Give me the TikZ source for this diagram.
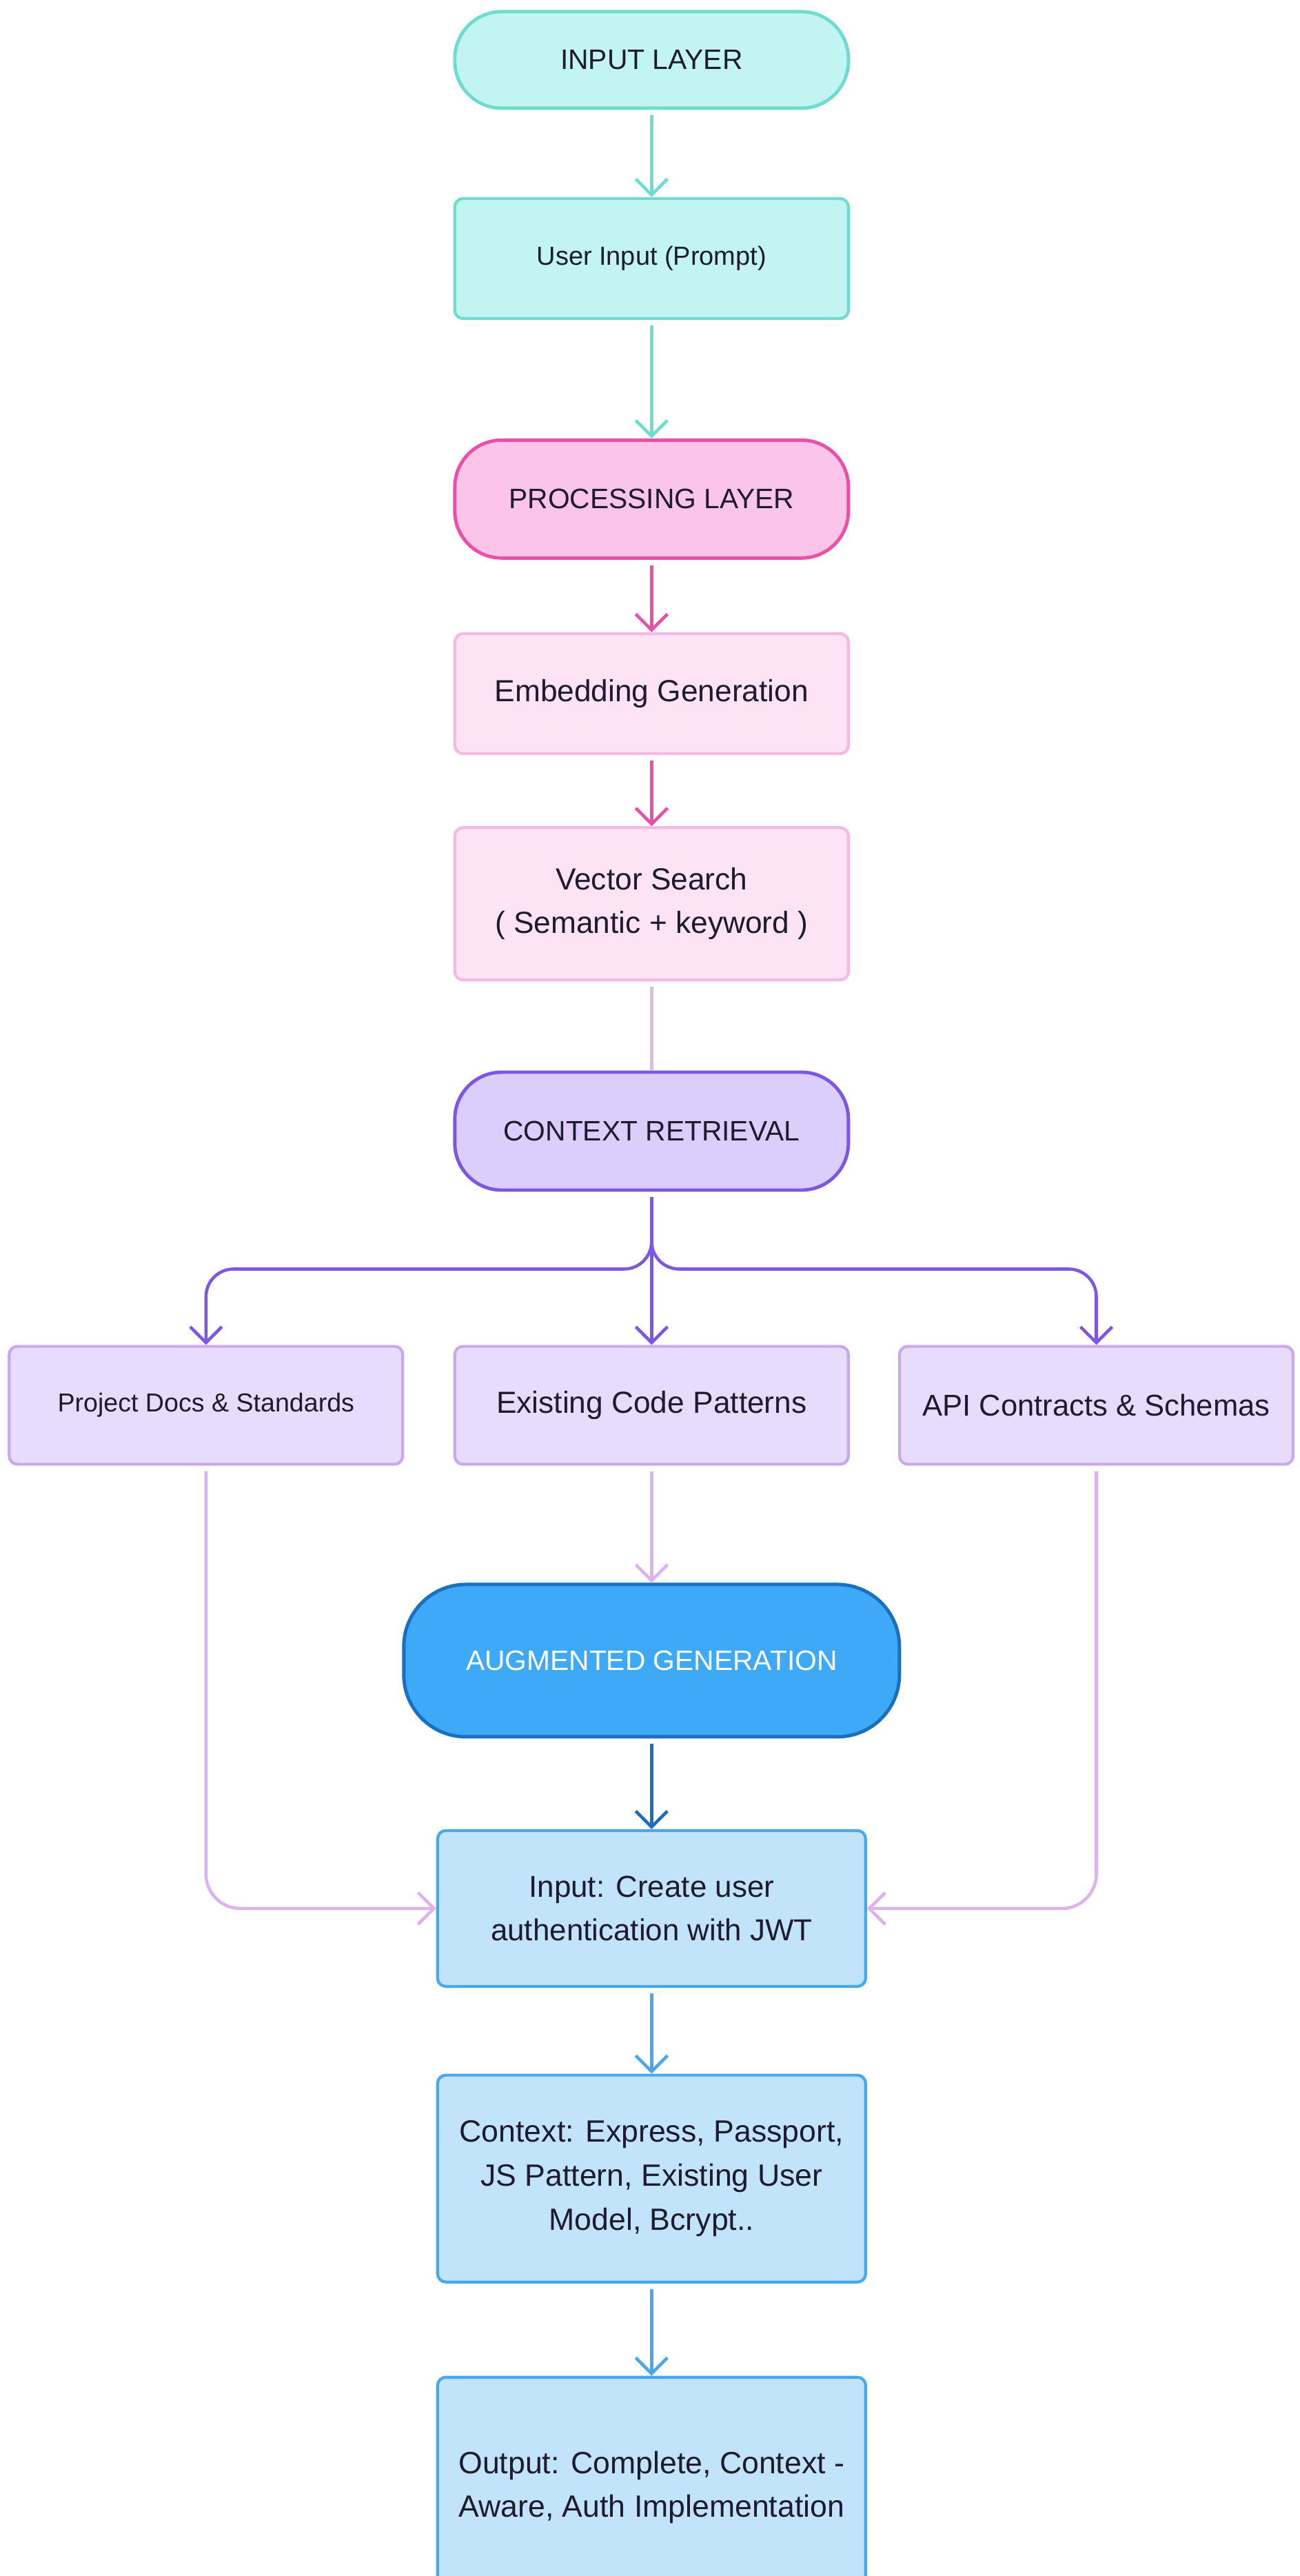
\documentclass[tikz,border=0pt]{standalone}
\usepackage{fontspec}
\setmainfont{Liberation Sans}
\usepackage{xcolor}
\usepackage{tikz}
\usetikzlibrary{positioning, calc, arrows.meta}

\definecolor{tealline}{HTML}{6FDCCF}
\definecolor{tealfill}{HTML}{C2F5F1}
\definecolor{pinkline}{HTML}{EC4FAA}
\definecolor{pinkfill}{HTML}{FBC4E9}
\definecolor{rosefill}{HTML}{FDE3F4}
\definecolor{roseline}{HTML}{F7B9E1}
\definecolor{mauveline}{HTML}{E5B7E7}
\definecolor{violetline}{HTML}{7D56E6}
\definecolor{violetfill}{HTML}{DCCEFC}
\definecolor{lilacfill}{HTML}{E8DCFD}
\definecolor{lilacline}{HTML}{C9A8F2}
\definecolor{lilacarrow}{HTML}{DDB2F2}
\definecolor{blueline}{HTML}{1B6FBF}
\definecolor{bluefill}{HTML}{3DA9F7}
\definecolor{skyfill}{HTML}{C2E4FB}
\definecolor{skyline}{HTML}{47A8EF}
\definecolor{inkcol}{HTML}{1E1B2E}

\begin{document}
\begin{tikzpicture}[
    layer/.style={draw, line width=1.4pt, rounded corners=0.68cm, minimum width=5.71cm,
        minimum height=1.71cm, align=center, text=inkcol,
        font=\fontsize{11.6}{18}\selectfont},
    stepbox/.style={draw, line width=1.2pt, rounded corners=0.12cm, minimum width=5.71cm,
        minimum height=1.74cm, align=center, text=inkcol,
        font=\fontsize{12.6}{18}\selectfont},
    flow/.style={line width=1.3pt, -{Straight Barb[length=2.3mm, width=4.6mm]}, shorten <=0.8mm},
]
    % Page
    \path[use as bounding box, clip] (0,0) rectangle (18.86,-37.36);
    \fill[white] (0,0) rectangle (18.86,-37.36);

    % Input layer
    \node[layer, fill=tealfill, draw=tealline, minimum height=1.40cm] (inlayer) at (9.453,-0.869) {INPUT LAYER};
    \node[stepbox, fill=tealfill, draw=tealline, font=\fontsize{10.8}{18}\selectfont] (prompt) at (9.453,-3.750) {User Input (Prompt)};

    % Processing layer
    \node[layer, fill=pinkfill, draw=pinkline] (proclayer) at (9.453,-7.238) {PROCESSING LAYER};
    \node[stepbox, fill=rosefill, draw=roseline] (embed) at (9.453,-10.060) {Embedding Generation};
    \node[stepbox, fill=rosefill, draw=roseline, minimum height=2.21cm] (vsearch) at (9.453,-13.108) {Vector Search\\( Semantic + keyword )};

    % Context retrieval
    \node[layer, fill=violetfill, draw=violetline] (retrieve) at (9.453,-16.405) {CONTEXT RETRIEVAL};
    \coordinate (fork) at (9.453,-18.405);
    \node[stepbox, fill=lilacfill, draw=lilacline, minimum width=5.71cm, minimum height=1.71cm,
        font=\fontsize{10.7}{18}\selectfont] (docs) at (2.988,-20.381) {Project Docs \& Standards};
    \node[stepbox, fill=lilacfill, draw=lilacline, minimum height=1.71cm] (patterns) at (9.453,-20.381) {Existing Code Patterns};
    \node[stepbox, fill=lilacfill, draw=lilacline, minimum height=1.71cm,
        font=\fontsize{12.4}{18}\selectfont] (contracts) at (15.905,-20.381) {API Contracts \& Schemas};

    % Augmented generation
    \node[layer, fill=bluefill, draw=blueline, text=white, minimum width=7.19cm, minimum height=2.21cm,
        rounded corners=0.9cm] (augment) at (9.453,-24.084) {AUGMENTED GENERATION};
    \node[stepbox, fill=skyfill, draw=skyline, minimum width=6.21cm, minimum height=2.26cm,
        font=\fontsize{12.5}{18}\selectfont] (request) at (9.453,-27.679) {Input: Create user\\authentication with JWT};
    \node[stepbox, fill=skyfill, draw=skyline, minimum width=6.21cm, minimum height=3.00cm,
        font=\fontsize{12.7}{18.3}\selectfont] (context) at (9.453,-31.596) {Context: Express, Passport,\\JS Pattern, Existing User\\Model, Bcrypt..};
    \node[stepbox, fill=skyfill, draw=skyline, minimum width=6.21cm, minimum height=3.19cm,
        font=\fontsize{12.7}{18}\selectfont] (result) at (9.453,-36.072) {Output: Complete, Context -\\Aware, Auth Implementation};

    % Connectors
    \draw[flow, tealline] (inlayer) -- (prompt);
    \draw[flow, tealline] (prompt) -- (proclayer);
    \draw[flow, pinkline] (proclayer) -- (embed);
    \draw[flow, pinkline] (embed) -- (vsearch);
    \draw[line width=1.3pt, mauveline, shorten <=0.8mm] (vsearch) -- (retrieve);

    \draw[flow, violetline] (retrieve) -- (patterns);
    \draw[flow, violetline, rounded corners=0.4cm] (retrieve.south) -- (fork) -| (docs.north);
    \draw[flow, violetline, rounded corners=0.4cm] (retrieve.south) -- (fork) -| (contracts.north);

    \draw[flow, lilacarrow] (patterns) -- (augment);
    \draw[flow, lilacarrow, rounded corners=0.5cm] (docs.south) |- (request.west);
    \draw[flow, lilacarrow, rounded corners=0.5cm] (contracts.south) |- (request.east);

    \draw[flow, blueline] (augment) -- (request);
    \draw[flow, skyline] (request) -- (context);
    \draw[flow, skyline] (context) -- (result);
\end{tikzpicture}
\end{document}
